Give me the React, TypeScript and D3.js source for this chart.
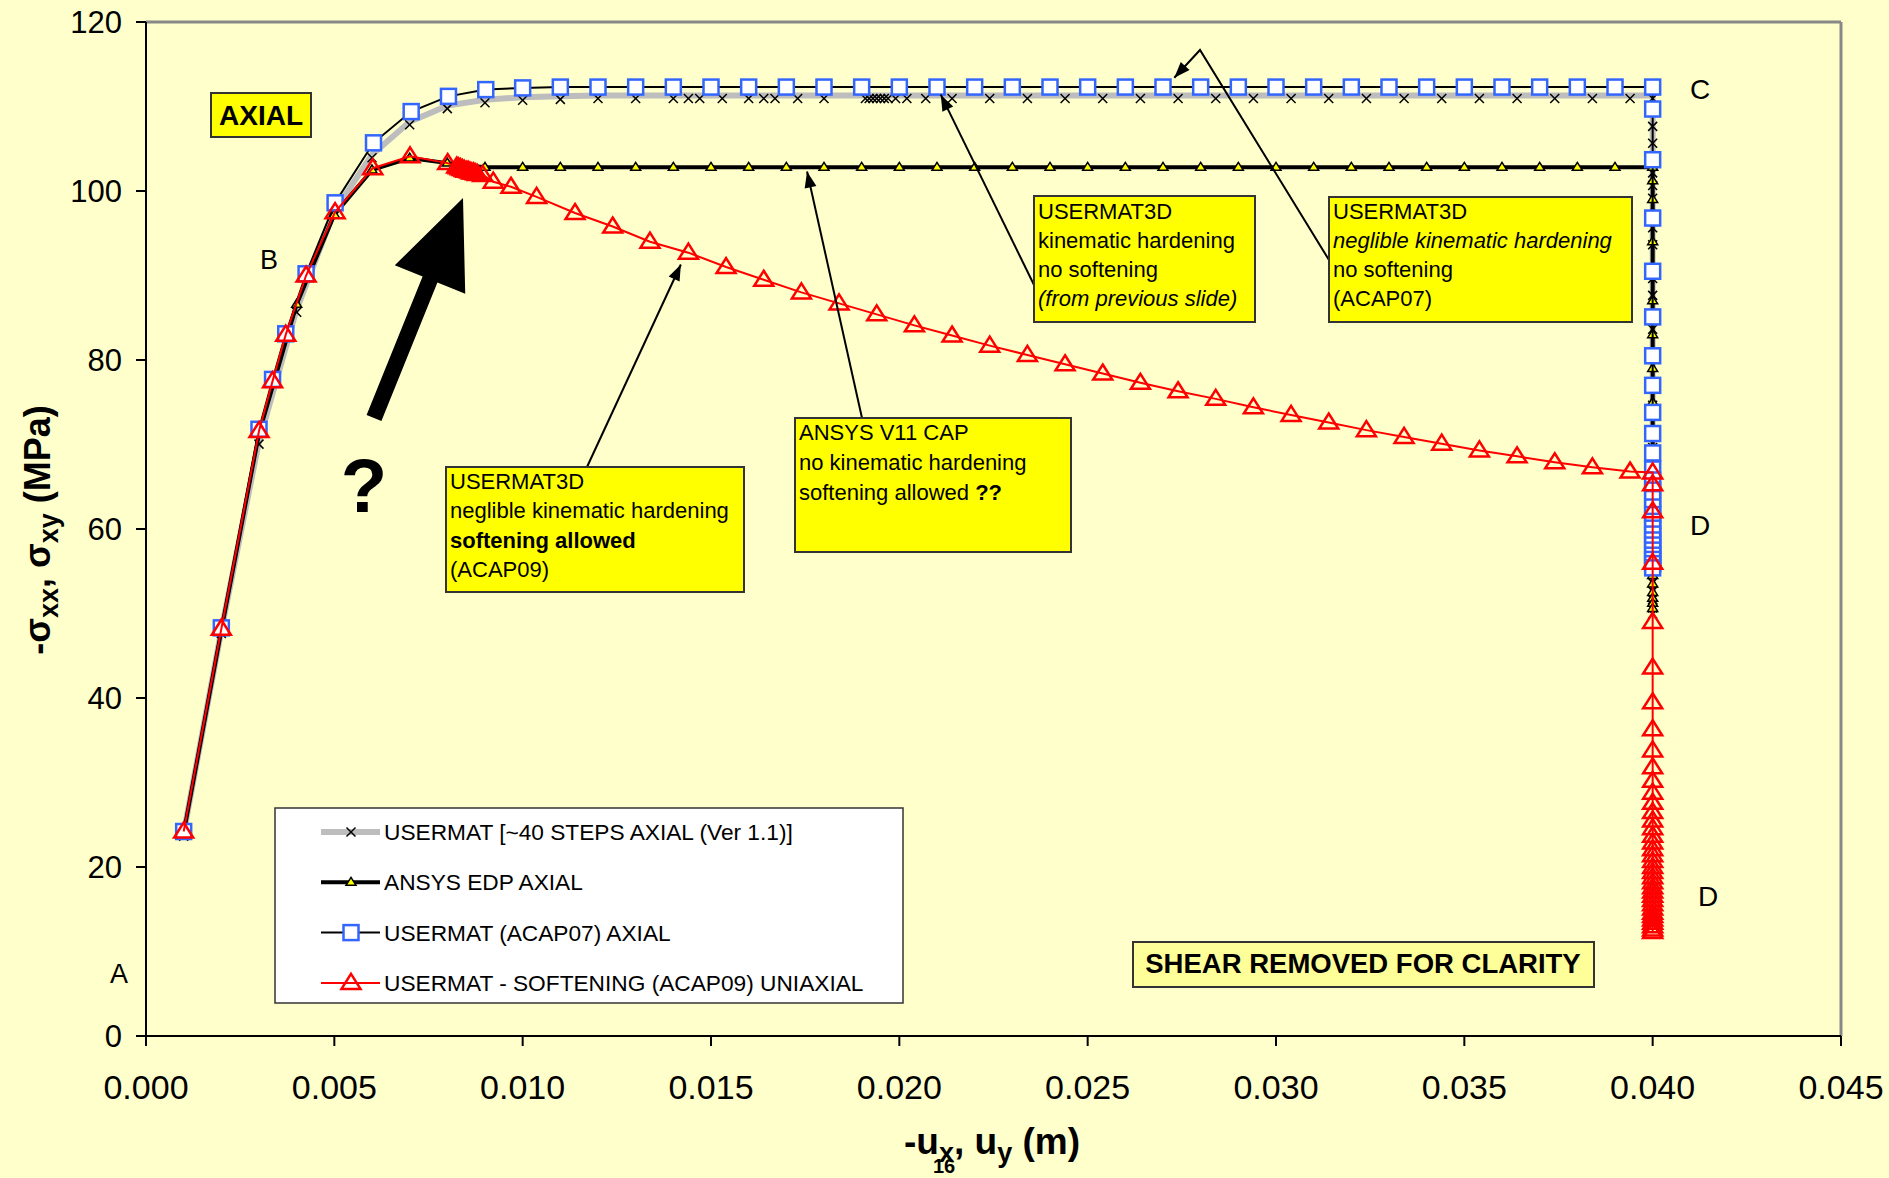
import React from 'react';
import * as d3 from 'd3';

const W = 1889, H = 1178;
const X0 = 146, X1 = 1841, Y0 = 1036, Y1 = 22;
const FONT = 'Liberation Sans, Arial, sans-serif';

const xTicks = [0, 0.005, 0.01, 0.015, 0.02, 0.025, 0.03, 0.035, 0.04, 0.045];
const yTicks = [0, 20, 40, 60, 80, 100, 120];

const legendLabels = [
  'USERMAT [~40 STEPS AXIAL (Ver 1.1)]',
  'ANSYS EDP AXIAL',
  'USERMAT (ACAP07) AXIAL',
  'USERMAT - SOFTENING (ACAP09) UNIAXIAL',
];

// USERMAT [~40 STEPS AXIAL (Ver 1.1)]
const greyData: number[][] = [
  [0.001, 24.0], [0.002, 48.0], [0.003, 70.4], [0.004, 86.0], [0.005, 97.6], [0.006, 104.3],
  [0.007, 108.2], [0.008, 110.1], [0.009, 110.8], [0.010, 111.1], [0.011, 111.2], [0.012, 111.3],
  [0.013, 111.3], [0.014, 111.3], [0.0144, 111.3], [0.0147, 111.3], [0.0153, 111.3], [0.016, 111.3],
  [0.0164, 111.3], [0.0167, 111.3], [0.0173, 111.3], [0.018, 111.3], [0.0191, 111.3], [0.0192, 111.3],
  [0.0193, 111.3], [0.0194, 111.3], [0.0195, 111.3], [0.0196, 111.3], [0.0197, 111.3], [0.0199, 111.3],
  [0.0202, 111.3], [0.0207, 111.3], [0.0214, 111.3], [0.0224, 111.3], [0.0234, 111.3], [0.0244, 111.3],
  [0.0254, 111.3], [0.0264, 111.3], [0.0274, 111.3], [0.0284, 111.3], [0.0294, 111.3], [0.0304, 111.3],
  [0.0314, 111.3], [0.0324, 111.3], [0.0334, 111.3], [0.0344, 111.3], [0.0354, 111.3], [0.0364, 111.3],
  [0.0374, 111.3], [0.0384, 111.3], [0.0394, 111.3], [0.040, 111.3],
  [0.040, 108.0], [0.040, 106.0], [0.040, 102.5], [0.040, 101.0], [0.040, 99.5], [0.040, 96.0],
  [0.040, 94.0], [0.040, 90.0], [0.040, 88.0], [0.040, 84.0], [0.040, 80.5], [0.040, 77.0],
  [0.040, 75.0], [0.040, 72.0], [0.040, 70.0], [0.040, 67.0], [0.040, 64.0], [0.040, 61.0],
  [0.040, 58.0], [0.040, 56.0], [0.040, 54.0], [0.040, 53.0], [0.040, 52.0], [0.040, 51.0], [0.040, 50.3],
];

// ANSYS EDP AXIAL
const blackData: number[][] = [
  [0.001, 24.0], [0.002, 48.0], [0.003, 71.3], [0.004, 86.6], [0.005, 97.2], [0.006, 102.5],
  [0.007, 103.9], [0.008, 103.3], [0.009, 102.8], [0.010, 102.8], [0.011, 102.8], [0.012, 102.8],
  [0.013, 102.8], [0.014, 102.8], [0.015, 102.8], [0.016, 102.8], [0.017, 102.8], [0.018, 102.8],
  [0.019, 102.8], [0.020, 102.8], [0.021, 102.8], [0.022, 102.8], [0.023, 102.8], [0.024, 102.8],
  [0.025, 102.8], [0.026, 102.8], [0.027, 102.8], [0.028, 102.8], [0.029, 102.8], [0.030, 102.8],
  [0.031, 102.8], [0.032, 102.8], [0.033, 102.8], [0.034, 102.8], [0.035, 102.8], [0.036, 102.8],
  [0.037, 102.8], [0.038, 102.8], [0.039, 102.8], [0.040, 102.8],
  [0.040, 101.2], [0.040, 99.0], [0.040, 97.5], [0.040, 94.0], [0.040, 91.0], [0.040, 87.0],
  [0.040, 83.0], [0.040, 79.0], [0.040, 75.0], [0.040, 71.5], [0.040, 68.0], [0.040, 64.0],
  [0.040, 60.0], [0.040, 56.0], [0.040, 54.5], [0.040, 53.5], [0.040, 52.5], [0.040, 51.8],
  [0.040, 51.2], [0.040, 50.6],
];

// USERMAT (ACAP07) AXIAL
const blueData: number[][] = [
  [0.001, 24.2], [0.002, 48.3], [0.003, 71.8], [0.00336, 77.7], [0.00371, 83.1], [0.00425, 90.2],
  [0.00502, 98.6], [0.00604, 105.7], [0.00704, 109.4], [0.00803, 111.2], [0.00902, 112.0], [0.010, 112.2],
  [0.011, 112.3], [0.012, 112.3], [0.013, 112.3], [0.014, 112.3], [0.015, 112.3], [0.016, 112.3],
  [0.017, 112.3], [0.018, 112.3], [0.019, 112.3], [0.020, 112.3], [0.021, 112.3], [0.022, 112.3],
  [0.023, 112.3], [0.024, 112.3], [0.025, 112.3], [0.026, 112.3], [0.027, 112.3], [0.028, 112.3],
  [0.029, 112.3], [0.030, 112.3], [0.031, 112.3], [0.032, 112.3], [0.033, 112.3], [0.034, 112.3],
  [0.035, 112.3], [0.036, 112.3], [0.037, 112.3], [0.038, 112.3], [0.039, 112.3], [0.040, 112.3],
  [0.040, 109.7], [0.040, 103.7], [0.040, 96.8], [0.040, 90.5], [0.040, 85.1], [0.040, 80.5],
  [0.040, 77.0], [0.040, 73.8], [0.040, 71.3], [0.040, 69.0], [0.040, 67.1], [0.040, 65.8],
  [0.040, 64.6], [0.040, 63.6], [0.040, 62.6], [0.040, 61.7], [0.040, 60.9], [0.040, 60.1],
  [0.040, 59.4], [0.040, 58.7], [0.040, 58.1], [0.040, 57.5], [0.040, 56.9], [0.040, 56.4],
  [0.040, 55.9], [0.040, 55.4],
];

// USERMAT - SOFTENING (ACAP09) UNIAXIAL
const redData: number[][] = [
  [0.001, 24.2], [0.002, 48.2], [0.003, 71.6], [0.00336, 77.5], [0.00371, 83.0], [0.00425, 90.0],
  [0.00502, 97.5], [0.00602, 102.7], [0.00701, 104.1], [0.00801, 103.3], [0.00825, 102.9], [0.0083, 102.8],
  [0.00835, 102.7], [0.0084, 102.6], [0.00845, 102.5], [0.0085, 102.4], [0.00855, 102.4], [0.0086, 102.3],
  [0.00865, 102.2], [0.0087, 102.2], [0.00875, 102.1], [0.0088, 102.0], [0.00894, 101.9], [0.00922, 101.1],
  [0.00969, 100.5], [0.01037, 99.3], [0.01139, 97.4], [0.01239, 95.8], [0.01338, 94.0], [0.0144, 92.7],
  [0.0154, 91.0], [0.0164, 89.5], [0.0174, 88.0], [0.0184, 86.7], [0.0194, 85.4], [0.0204, 84.1],
  [0.0214, 82.9], [0.0224, 81.7], [0.0234, 80.6], [0.0244, 79.5], [0.0254, 78.4], [0.0264, 77.3],
  [0.0274, 76.3], [0.0284, 75.4], [0.0294, 74.4], [0.0304, 73.5], [0.0314, 72.6], [0.0324, 71.7],
  [0.0334, 70.9], [0.0344, 70.1], [0.0354, 69.3], [0.0364, 68.6], [0.0374, 67.9], [0.0384, 67.3],
  [0.0394, 66.8], [0.040, 66.7],
  [0.040, 65.3], [0.040, 62.1], [0.040, 56.0], [0.040, 49.0], [0.040, 43.6], [0.040, 39.5],
  [0.040, 36.3], [0.040, 33.8], [0.040, 31.8], [0.040, 30.2], [0.040, 28.8], [0.040, 27.6],
  [0.040, 26.5], [0.040, 25.5], [0.040, 24.6], [0.040, 23.7], [0.040, 22.9], [0.040, 22.1],
  [0.040, 21.4], [0.040, 20.7], [0.040, 20.0], [0.040, 19.4], [0.040, 18.8], [0.040, 18.2],
  [0.040, 17.6], [0.040, 17.1], [0.040, 16.6], [0.040, 16.1], [0.040, 15.6], [0.040, 15.1],
  [0.040, 14.6], [0.040, 14.2], [0.040, 13.8], [0.040, 13.4], [0.040, 13.0], [0.040, 12.6], [0.040, 12.3],
];

const RED_TRI = 'M0,-9L9.5,6L-9.5,6Z';
const YEL_TRI = 'M0,-5L5,3L-5,3Z';

function Cross({ cx, cy, s = 4.5 }: { cx: number; cy: number; s?: number }) {
  return (
    <g stroke="#000" strokeWidth={1.5}>
      <line x1={cx - s} y1={cy - s} x2={cx + s} y2={cy + s} />
      <line x1={cx - s} y1={cy + s} x2={cx + s} y2={cy - s} />
    </g>
  );
}

function arrowHead(fx: number, fy: number, tx: number, ty: number, len = 16, hw = 6) {
  const dx = tx - fx, dy = ty - fy;
  const L = Math.hypot(dx, dy);
  const ux = dx / L, uy = dy / L, nx = -uy, ny = ux;
  const bx = tx - ux * len, by = ty - uy * len;
  return `M${tx},${ty}L${bx + nx * hw},${by + ny * hw}L${bx - nx * hw},${by - ny * hw}Z`;
}

function bigArrow(tx0: number, ty0: number, px: number, py: number, hl: number, hhw: number, shw: number) {
  const dx = px - tx0, dy = py - ty0;
  const L = Math.hypot(dx, dy);
  const ux = dx / L, uy = dy / L, nx = -uy, ny = ux;
  const bx = px - ux * hl, by = py - uy * hl;
  const pts = [
    [tx0 + nx * shw, ty0 + ny * shw],
    [bx + nx * shw, by + ny * shw],
    [bx + nx * hhw, by + ny * hhw],
    [px, py],
    [bx - nx * hhw, by - ny * hhw],
    [bx - nx * shw, by - ny * shw],
    [tx0 - nx * shw, ty0 - ny * shw],
  ];
  return 'M' + pts.map((p) => p.join(',')).join('L') + 'Z';
}

export default function App() {
  const x = d3.scaleLinear().domain([0, 0.045]).range([X0, X1]);
  const y = d3.scaleLinear().domain([0, 120]).range([Y0, Y1]);
  const line = d3.line<number[]>().x((d) => x(d[0])).y((d) => y(d[1]));
  const fmt = d3.format('.3f');

  const boxStroke = '#333';
  const txt = { fontFamily: FONT, fill: '#000' } as const;

  const tip1 = [x(0.0142), y(91.3)];
  const tip2 = [x(0.01755), y(102.3)];
  const tip3 = [x(0.0211), y(111.4)];
  const tip4 = [x(0.0273), y(113.4)];

  return (
    <svg width={W} height={H} style={{ position: 'absolute', left: 0, top: 0, background: '#FFFFCC' }}>
      <rect x={0} y={0} width={W} height={H} fill="#FFFFCC" />

      <line x1={X0} y1={Y1} x2={X1} y2={Y1} stroke="#888" strokeWidth={3} />
      <line x1={X1} y1={Y1} x2={X1} y2={Y0} stroke="#888" strokeWidth={3} />

      <line x1={X0} y1={Y1} x2={X0} y2={Y0} stroke="#000" strokeWidth={2} />
      {yTicks.map((t) => (
        <g key={'y' + t}>
          <line x1={X0 - 10} x2={X0} y1={y(t)} y2={y(t)} stroke="#000" strokeWidth={2} />
          <text x={X0 - 24} y={y(t) + 11} textAnchor="end" fontSize={31} {...txt}>{t}</text>
        </g>
      ))}
      <line x1={X0} y1={Y0} x2={X1} y2={Y0} stroke="#000" strokeWidth={2} />
      {xTicks.map((t) => (
        <g key={'x' + t}>
          <line x1={x(t)} x2={x(t)} y1={Y0} y2={Y0 + 10} stroke="#000" strokeWidth={2} />
          <text x={x(t)} y={Y0 + 63} textAnchor="middle" fontSize={34} {...txt}>{fmt(t)}</text>
        </g>
      ))}

      <text transform="translate(50,530) rotate(-90)" textAnchor="middle" fontSize={36} fontWeight="bold" {...txt}>
        <tspan>-σ</tspan>
        <tspan fontSize={27} dy={8}>xx</tspan>
        <tspan dy={-8}>, σ</tspan>
        <tspan fontSize={27} dy={8}>xy</tspan>
        <tspan dy={-8}> (MPa)</tspan>
      </text>
      <text x={904} y={1154} fontSize={37} fontWeight="bold" {...txt}>
        <tspan>-u</tspan>
        <tspan fontSize={27} dy={8}>x</tspan>
        <tspan dy={-8}>, u</tspan>
        <tspan fontSize={27} dy={8}>y</tspan>
        <tspan dy={-8}> (m)</tspan>
      </text>
      <text x={933} y={1173} fontSize={20} fontWeight="bold" {...txt}>16</text>

      <path d={line(greyData) || ''} fill="none" stroke="#BDBDBD" strokeWidth={6} />
      {greyData.map((d, i) => <Cross key={'g' + i} cx={x(d[0])} cy={y(d[1]) + 3} />)}

      <path d={line(blackData) || ''} fill="none" stroke="#000" strokeWidth={4} />
      {blackData.map((d, i) => (
        <path key={'b' + i} d={YEL_TRI} transform={`translate(${x(d[0])},${y(d[1])})`} fill="#FFFF00" stroke="#000" strokeWidth={1.5} />
      ))}

      <path d={line(blueData) || ''} fill="none" stroke="#000" strokeWidth={2} />
      {blueData.map((d, i) => (
        <rect key={'s' + i} x={x(d[0]) - 7.5} y={y(d[1]) - 7.5} width={15} height={15} fill="#fff" stroke="#3366FF" strokeWidth={2.5} />
      ))}

      <path d={line(redData) || ''} fill="none" stroke="#FF0000" strokeWidth={2} />
      {redData.map((d, i) => (
        <path key={'r' + i} d={RED_TRI} transform={`translate(${x(d[0])},${y(d[1])})`} fill="none" stroke="#FF0000" strokeWidth={2.5} />
      ))}

      <text x={110} y={983} fontSize={27} {...txt}>A</text>
      <text x={260} y={269} fontSize={27} {...txt}>B</text>
      <text x={1690} y={99} fontSize={28} {...txt}>C</text>
      <text x={1690} y={535} fontSize={28} {...txt}>D</text>
      <text x={1698} y={906} fontSize={28} {...txt}>D</text>

      <rect x={211} y={93} width={100} height={44} fill="#FFFF00" stroke={boxStroke} strokeWidth={2} />
      <text x={261} y={125} textAnchor="middle" fontSize={28} fontWeight="bold" {...txt}>AXIAL</text>

      <path d={bigArrow(374, 418, 463, 198, 88, 38, 8)} fill="#000" />
      <text x={364} y={512} textAnchor="middle" fontSize={76} fontWeight="bold" {...txt}>?</text>

      <g stroke="#000" strokeWidth={2} fill="none">
        <line x1={587} y1={467} x2={tip1[0]} y2={tip1[1]} />
        <line x1={862} y1={418} x2={tip2[0]} y2={tip2[1]} />
        <line x1={1036} y1={289} x2={tip3[0]} y2={tip3[1]} />
        <polyline points={`1329,260 1200,50 ${tip4[0]},${tip4[1]}`} />
      </g>
      <path d={arrowHead(587, 467, tip1[0], tip1[1])} fill="#000" />
      <path d={arrowHead(862, 418, tip2[0], tip2[1])} fill="#000" />
      <path d={arrowHead(1036, 289, tip3[0], tip3[1])} fill="#000" />
      <path d={arrowHead(1200, 50, tip4[0], tip4[1])} fill="#000" />

      <rect x={446} y={467} width={298} height={125} fill="#FFFF00" stroke={boxStroke} strokeWidth={2} />
      <g fontSize={22} {...txt}>
        <text x={450} y={489}>USERMAT3D</text>
        <text x={450} y={518}>neglible kinematic hardening</text>
        <text x={450} y={548} fontWeight="bold">softening allowed</text>
        <text x={450} y={577}>(ACAP09)</text>
      </g>

      <rect x={795} y={418} width={276} height={134} fill="#FFFF00" stroke={boxStroke} strokeWidth={2} />
      <g fontSize={22} {...txt}>
        <text x={799} y={440}>ANSYS V11 CAP</text>
        <text x={799} y={470}>no kinematic hardening</text>
        <text x={799} y={500}>softening allowed <tspan fontWeight="bold">??</tspan></text>
      </g>

      <rect x={1034} y={196} width={221} height={126} fill="#FFFF00" stroke={boxStroke} strokeWidth={2} />
      <g fontSize={22} {...txt}>
        <text x={1038} y={219}>USERMAT3D</text>
        <text x={1038} y={248}>kinematic hardening</text>
        <text x={1038} y={277}>no softening</text>
        <text x={1038} y={306} fontStyle="italic">(from previous slide)</text>
      </g>

      <rect x={1329} y={197} width={303} height={125} fill="#FFFF00" stroke={boxStroke} strokeWidth={2} />
      <g fontSize={22} {...txt}>
        <text x={1333} y={219}>USERMAT3D</text>
        <text x={1333} y={248} fontStyle="italic">neglible kinematic hardening</text>
        <text x={1333} y={277}>no softening</text>
        <text x={1333} y={306}>(ACAP07)</text>
      </g>

      <rect x={1133} y={942} width={461} height={45} fill="#FFFF99" stroke={boxStroke} strokeWidth={2} />
      <text x={1363} y={973} textAnchor="middle" fontSize={27.5} fontWeight="bold" {...txt}>SHEAR REMOVED FOR CLARITY</text>

      <rect x={275} y={808} width={628} height={195} fill="#fff" stroke="#333" strokeWidth={1.5} />
      {legendLabels.map((lab, i) => {
        const ly = 832 + i * 50.3;
        const mx = 351;
        return (
          <g key={'l' + i}>
            {i === 0 && (<><line x1={321} x2={380} y1={ly} y2={ly} stroke="#BDBDBD" strokeWidth={6} /><Cross cx={mx} cy={ly} /></>)}
            {i === 1 && (<><line x1={321} x2={380} y1={ly} y2={ly} stroke="#000" strokeWidth={4} /><path d={YEL_TRI} transform={`translate(${mx},${ly})`} fill="#FFFF00" stroke="#000" strokeWidth={1.5} /></>)}
            {i === 2 && (<><line x1={321} x2={380} y1={ly} y2={ly} stroke="#000" strokeWidth={2} /><rect x={mx - 7.5} y={ly - 7.5} width={15} height={15} fill="#fff" stroke="#3366FF" strokeWidth={2.5} /></>)}
            {i === 3 && (<><line x1={321} x2={380} y1={ly} y2={ly} stroke="#FF0000" strokeWidth={2} /><path d={RED_TRI} transform={`translate(${mx},${ly})`} fill="none" stroke="#FF0000" strokeWidth={2.5} /></>)}
            <text x={384} y={ly + 8} fontSize={22.7} {...txt}>{lab}</text>
          </g>
        );
      })}
    </svg>
  );
}
